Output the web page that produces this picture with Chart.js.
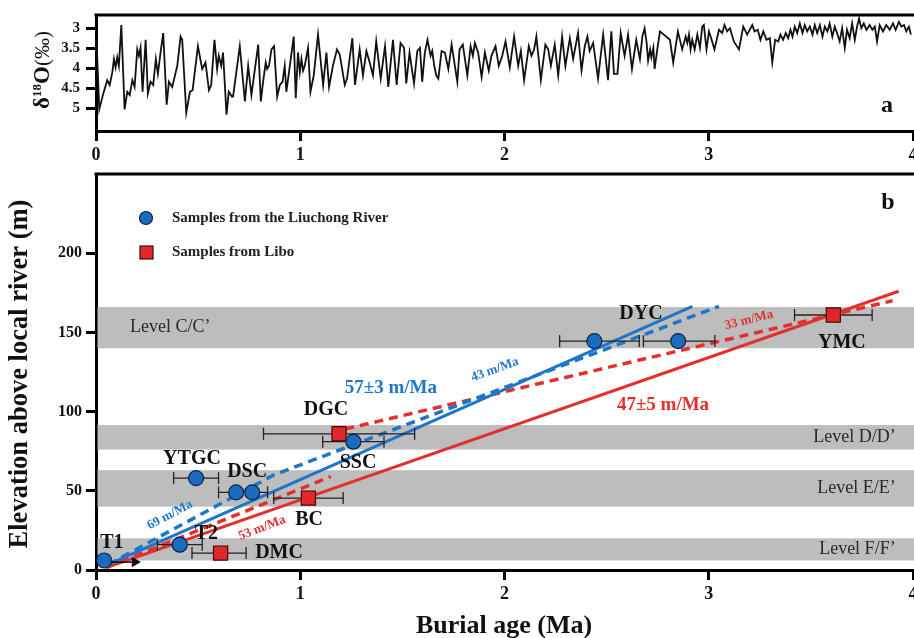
<!DOCTYPE html>
<html>
<head>
<meta charset="utf-8">
<script src="https://cdn.jsdelivr.net/npm/chart.js@4.4.1/dist/chart.umd.min.js"></script>
<style>
  html, body { margin: 0; padding: 0; background: #fff; overflow: hidden; }
  #wrap { position: relative; width: 914px; height: 638px; overflow: hidden; }
  #o18-box { position: absolute; left: 0; top: 0; width: 930px; height: 172px; }
  #burial-box { position: absolute; left: 0; top: 160px; width: 930px; height: 478px; }
</style>
</head>
<body>
<div id="wrap">
  <div id="o18-box"><canvas id="o18-chart" width="930" height="172"></canvas></div>
  <div id="burial-box"><canvas id="burial-chart" width="930" height="478"></canvas></div>
</div>
<script>
// ---- panel a: benthic d18O stack ----
const o18Age = [
  0.003, 0.016, 0.036, 0.055, 0.067, 0.080, 0.088, 0.096, 0.104, 0.112, 0.124, 0.140, 0.153, 0.165, 0.178, 0.189,
  0.202, 0.210, 0.218, 0.228, 0.243, 0.254, 0.267, 0.280, 0.293, 0.303, 0.316, 0.329, 0.346, 0.357, 0.373, 0.398,
  0.414, 0.422, 0.442, 0.460, 0.473, 0.499, 0.520, 0.536, 0.553, 0.564, 0.580, 0.593, 0.601, 0.613, 0.622, 0.639,
  0.650, 0.665, 0.671, 0.685, 0.704, 0.729, 0.745, 0.761, 0.794, 0.807, 0.818, 0.831, 0.838, 0.847, 0.859, 0.872,
  0.887, 0.900, 0.913, 0.924, 0.932, 0.949, 0.968, 0.978, 0.989, 0.998, 1.006, 1.014, 1.022, 1.038, 1.050, 1.066,
  1.087, 1.112, 1.128, 1.141, 1.160, 1.180, 1.193, 1.218, 1.229, 1.255, 1.268, 1.291, 1.307, 1.324, 1.340, 1.356,
  1.372, 1.394, 1.415, 1.431, 1.454, 1.472, 1.491, 1.508, 1.519, 1.535, 1.557, 1.573, 1.586, 1.597, 1.610, 1.623,
  1.638, 1.646, 1.656, 1.666, 1.676, 1.692, 1.708, 1.725, 1.741, 1.757, 1.769, 1.780, 1.796, 1.818, 1.834, 1.845,
  1.855, 1.871, 1.888, 1.904, 1.923, 1.936, 1.956, 1.972, 1.989, 2.005, 2.026, 2.047, 2.067, 2.080, 2.096, 2.119,
  2.132, 2.145, 2.156, 2.178, 2.200, 2.214, 2.227, 2.246, 2.263, 2.282, 2.298, 2.320, 2.336, 2.360, 2.377, 2.393,
  2.406, 2.417, 2.434, 2.458, 2.483, 2.507, 2.523, 2.536, 2.553, 2.569, 2.588, 2.605, 2.624, 2.645, 2.663, 2.675,
  2.686, 2.696, 2.703, 2.713, 2.719, 2.729, 2.735, 2.748, 2.761, 2.810, 2.826, 2.849, 2.870, 2.887, 2.895, 2.903,
  2.911, 2.919, 2.931, 2.944, 2.957, 2.968, 2.976, 2.989, 3.001, 3.012, 3.028, 3.050, 3.066, 3.077, 3.090, 3.104,
  3.123, 3.148, 3.169, 3.188, 3.213, 3.224, 3.240, 3.253, 3.267, 3.283, 3.299, 3.311, 3.325, 3.340, 3.351, 3.364,
  3.377, 3.389, 3.400, 3.410, 3.421, 3.433, 3.446, 3.459, 3.470, 3.482, 3.495, 3.508, 3.519, 3.531, 3.544, 3.557,
  3.568, 3.581, 3.592, 3.605, 3.617, 3.628, 3.641, 3.653, 3.666, 3.677, 3.690, 3.702, 3.715, 3.726, 3.736, 3.747,
  3.759, 3.772, 3.788, 3.801, 3.813, 3.824, 3.837, 3.853, 3.869, 3.886, 3.902, 3.915, 3.931, 3.943, 3.956, 3.967,
  3.980, 3.990
];
const o18Val = [
  3.32, 5.02, 4.62, 4.29, 4.41, 4.09, 3.76, 3.97, 3.72, 3.93, 2.91, 5.02, 4.58, 4.66, 4.29, 4.46,
  3.52, 3.68, 3.48, 4.58, 3.28, 4.62, 4.33, 4.41, 3.76, 4.13, 3.60, 3.11, 4.90, 4.33, 4.46, 3.93,
  3.20, 3.28, 5.10, 4.58, 4.54, 3.44, 4.01, 3.85, 4.54, 4.41, 3.28, 4.01, 3.68, 3.93, 3.60, 5.15,
  4.58, 4.70, 4.70, 4.17, 3.44, 4.82, 3.93, 4.66, 3.40, 4.82, 4.33, 3.85, 4.01, 3.93, 3.52, 3.44,
  4.70, 4.41, 4.33, 3.93, 4.58, 3.93, 3.20, 4.74, 3.60, 4.09, 3.76, 4.05, 3.93, 3.48, 4.58, 4.17,
  3.15, 4.41, 3.60, 4.46, 3.93, 3.52, 3.64, 4.41, 4.25, 3.24, 4.41, 3.52, 4.17, 3.56, 3.85, 4.17,
  3.32, 4.25, 3.44, 4.46, 3.28, 4.41, 3.36, 3.48, 4.37, 3.60, 4.37, 3.56, 3.48, 4.33, 3.60, 3.28,
  3.68, 3.56, 3.93, 4.17, 4.25, 3.56, 3.60, 4.01, 3.40, 3.93, 4.33, 3.52, 3.40, 4.17, 3.44, 3.68,
  3.36, 3.60, 4.21, 3.60, 4.05, 3.68, 3.44, 3.93, 3.68, 3.32, 3.97, 3.20, 3.93, 3.56, 4.29, 3.44,
  3.68, 3.52, 3.20, 4.29, 3.40, 3.52, 3.93, 3.40, 4.17, 3.20, 3.93, 3.24, 3.76, 3.11, 4.05, 3.44,
  3.20, 3.56, 3.36, 4.25, 3.15, 4.29, 3.07, 4.13, 4.13, 3.11, 3.68, 3.15, 4.01, 3.28, 3.76, 3.20,
  2.99, 3.36, 3.80, 3.52, 3.72, 3.48, 4.01, 3.52, 3.07, 3.28, 3.85, 3.07, 3.52, 3.20, 3.36, 3.15,
  3.52, 3.28, 3.52, 3.15, 3.48, 2.95, 2.91, 3.52, 3.07, 3.24, 3.52, 3.03, 3.11, 2.91, 3.07, 2.99,
  3.32, 3.52, 2.95, 3.15, 2.91, 3.07, 3.03, 3.28, 3.07, 3.28, 3.24, 3.85, 3.28, 3.32, 3.15, 3.28,
  3.11, 3.24, 3.03, 3.20, 2.95, 3.11, 2.87, 3.11, 2.91, 3.07, 2.95, 3.15, 2.91, 3.11, 2.91, 3.20,
  2.95, 3.07, 2.87, 3.20, 2.95, 3.11, 3.32, 2.99, 3.48, 3.03, 3.24, 2.87, 3.28, 2.95, 2.75, 2.99,
  2.87, 3.03, 2.91, 3.03, 2.95, 3.32, 2.91, 3.07, 2.91, 3.03, 2.87, 3.03, 2.83, 2.95, 2.91, 3.07,
  2.95, 3.15
];
const o18Ticks = [3, 3.5, 4, 4.5, 5];
const ageTicks = [0, 1, 2, 3, 4];

// ---- panel b: burial ages ----
// Liuchong River samples (circles)
const liuNames = ['T1', 'T2', 'YTGC', 'DSC', 'DSC', 'SSC', 'DYC', 'DYC'];
const liuAge   = [0.04, 0.41, 0.49, 0.686, 0.765, 1.26, 2.44, 2.85];
const liuElev  = [6, 16, 58, 49, 49, 81, 144.5, 144.5];
const liuLo    = [null, 0.30, 0.38, 0.60, 0.686, 1.11, 2.27, 2.68];
const liuHi    = [null, 0.52, 0.60, 0.765, 0.84, 1.41, 2.66, 3.03];
// Libo samples (squares)
const libNames = ['DMC', 'BC', 'DGC', 'YMC'];
const libAge   = [0.61, 1.04, 1.19, 3.61];
const libElev  = [10.7, 45.4, 86, 161];
const libLo    = [0.47, 0.87, 0.82, 3.42];
const libHi    = [0.735, 1.21, 1.56, 3.80];

// incision-rate lines
const blueFitX  = [0.05, 2.92];
const blueFitY  = [2.9, 166.4];
const blueDashX = [0.06, 0.87, 3.05];
const blueDashY = [3.5, 60, 166.5];
const redFitX   = [0.05, 3.93];
const redFitY   = [1.5, 176];
const redDashX  = [0.05, 1.15, 1.18, 1.22, 3.90];
const redDashY  = [1.5, 59, null, 89, 170];
const arrowX    = [0.07, 0.19];
const arrowY    = [5, 5];

// terrace levels (m)
const levelNames = ['Level C/C’', 'Level D/D’', 'Level E/E’', 'Level F/F’'];
const levelLo    = [140, 76, 40, 6];
const levelHi    = [166, 91.5, 63, 20];
const elevTicks  = [0, 50, 100, 150, 200];

const BLUE = '#1d76c9';
const RED = '#e3302d';
const SERIF = "'Liberation Serif', 'Times New Roman', serif";
Chart.defaults.font.family = SERIF;
Chart.defaults.color = '#111';

const pts = (xs, ys) => xs.map((x, i) => ({ x: x, y: ys[i] }));

function errBars(lo, hi, ys) {
  const out = [];
  lo.forEach((l, i) => {
    if (l == null) return;
    out.push({ x: l, y: ys[i] }, { x: hi[i], y: ys[i] }, { x: hi[i], y: null });
  });
  return out;
}

function axisX(height, labelPad, size) {
  return {
    type: 'linear', min: 0, max: 4,
    afterBuildTicks: s => { s.ticks = ageTicks.map(v => ({ value: v })); },
    afterFit: s => { s.height = height; },
    grid: { drawOnChartArea: false, drawTicks: true, tickLength: 10, lineWidth: 3, color: '#000' },
    border: { display: true, width: 3, color: '#000' },
    ticks: { padding: labelPad, maxRotation: 0, color: '#111', font: { size: size, weight: 'bold' },
             callback: v => String(v) }
  };
}

function yAxisBox(pad, size) {
  return {
    afterFit: s => { s.width = 96; },
    grid: { drawOnChartArea: false, drawTicks: true, tickLength: 10, lineWidth: 3, color: '#000' },
    border: { display: true, width: 3, color: '#000' },
    ticks: { padding: pad, color: '#111', font: { size: size, weight: 'bold' }, callback: v => String(v) }
  };
}

// thick top edge of each panel
const topEdge = {
  id: 'topEdge',
  afterDraw(chart) {
    const { ctx, chartArea: a } = chart;
    ctx.save();
    ctx.strokeStyle = '#000';
    ctx.lineWidth = 3;
    ctx.beginPath();
    ctx.moveTo(a.left - 1.5, a.top);
    ctx.lineTo(a.right + 20, a.top);
    ctx.stroke();
    ctx.restore();
  }
};

function txt(ctx, s, x, y, font, color, align, rot) {
  ctx.save();
  ctx.translate(x, y);
  if (rot) ctx.rotate(rot * Math.PI / 180);
  ctx.font = font;
  ctx.fillStyle = color;
  ctx.textAlign = align || 'center';
  ctx.textBaseline = 'middle';
  ctx.fillText(s, 0, 0);
  ctx.restore();
}

// ---------------- panel a ----------------
const o18Deco = {
  id: 'o18Deco',
  afterDraw(chart) {
    const ctx = chart.ctx;
    txt(ctx, 'a', 887, 106, 'bold 24px ' + SERIF, '#111');
    // rotated title δ18O(‰)
    const parts = [
      { s: 'δ', f: 'bold 23px ' + SERIF, dy: 0 },
      { s: '18', f: 'bold 13px ' + SERIF, dy: -8 },
      { s: 'O', f: 'bold 23px ' + SERIF, dy: 0 },
      { s: '(‰)', f: '21px ' + SERIF, dy: 0 }
    ];
    ctx.save();
    ctx.translate(41, 70);
    ctx.rotate(-Math.PI / 2);
    ctx.fillStyle = '#111';
    ctx.textBaseline = 'alphabetic';
    let total = 0;
    parts.forEach(p => { ctx.font = p.f; p.w = ctx.measureText(p.s).width; total += p.w; });
    let cx = -total / 2;
    parts.forEach(p => { ctx.font = p.f; ctx.fillText(p.s, cx, 8 + p.dy); cx += p.w; });
    ctx.restore();
  }
};

new Chart(document.getElementById('o18-chart'), {
  type: 'line',
  data: {
    datasets: [{
      data: pts(o18Age, o18Val),
      borderColor: '#111',
      borderWidth: 1.8,
      pointRadius: 0,
      tension: 0
    }]
  },
  options: {
    responsive: false,
    devicePixelRatio: 1,
    animation: false,
    events: [],
    layout: { padding: { top: 12, right: 17, left: 0, bottom: 0 } },
    plugins: { legend: { display: false }, tooltip: { enabled: false } },
    scales: {
      x: axisX(41, 4, 18),
      y: Object.assign(yAxisBox(6, 15), {
        type: 'linear', reverse: true, min: 2.66, max: 5.56,
        afterBuildTicks: s => { s.ticks = o18Ticks.map(v => ({ value: v })); }
      })
    }
  },
  plugins: [topEdge, o18Deco]
});

// ---------------- panel b ----------------
const sampleNotes = [
  { t: 'T1', x: 0.078, y: 17 }, { t: 'T2', x: 0.54, y: 23 }, { t: 'DMC', x: 0.896, y: 10.7 },
  { t: 'BC', x: 1.043, y: 31.6 }, { t: 'YTGC', x: 0.47, y: 70 }, { t: 'DSC', x: 0.74, y: 62 },
  { t: 'DGC', x: 1.126, y: 101 }, { t: 'SSC', x: 1.283, y: 67.5 }, { t: 'DYC', x: 2.668, y: 161.6 },
  { t: 'YMC', x: 3.652, y: 143.3 }
];
const rateNotes = [
  { t: '57±3 m/Ma', x: 1.444, y: 115, c: BLUE, f: 'bold 19px ', r: 0 },
  { t: '47±5 m/Ma', x: 2.776, y: 104, c: RED, f: 'bold 19px ', r: 0 },
  { t: '43 m/Ma', x: 1.953, y: 126.5, c: BLUE, f: 'bold 13px ', r: -20 },
  { t: '69 m/Ma', x: 0.362, y: 34.7, c: BLUE, f: 'bold 13px ', r: -28 },
  { t: '53 m/Ma', x: 0.813, y: 26.5, c: RED, f: 'bold 13px ', r: -21 },
  { t: '33 m/Ma', x: 3.197, y: 157.8, c: RED, f: 'bold 13px ', r: -14 }
];

const levelBands = {
  id: 'levelBands',
  beforeDatasetsDraw(chart) {
    const { ctx, chartArea: a, scales: { y } } = chart;
    ctx.save();
    ctx.fillStyle = '#bdbdbd';
    levelLo.forEach((lo, i) => {
      const top = y.getPixelForValue(levelHi[i]);
      const bot = y.getPixelForValue(lo);
      ctx.fillRect(a.left + 1.5, top, a.right - a.left + 20, bot - top);
    });
    ctx.restore();
    const x = chart.scales.x;
    levelNames.forEach((n, i) => {
      const yc = y.getPixelForValue((levelLo[i] + levelHi[i]) / 2);
      if (i === 0) txt(ctx, n, x.getPixelForValue(0.166), yc, '18px ' + SERIF, '#2a2a2a', 'left');
      else txt(ctx, n, x.getPixelForValue(3.915), yc, '18px ' + SERIF, '#2a2a2a', 'right');
    });
  }
};

const burialNotes = {
  id: 'burialNotes',
  afterDatasetsDraw(chart) {
    const { ctx, scales: { x, y } } = chart;
    sampleNotes.forEach(n =>
      txt(ctx, n.t, x.getPixelForValue(n.x), y.getPixelForValue(n.y), 'bold 20px ' + SERIF, '#111'));
    rateNotes.forEach(n =>
      txt(ctx, n.t, x.getPixelForValue(n.x), y.getPixelForValue(n.y), n.f + SERIF, n.c, 'center', n.r));
  },
  afterDraw(chart) {
    const ctx = chart.ctx;
    const liu = chart.data.datasets[0], lib = chart.data.datasets[1];
    // legend
    ctx.save();
    ctx.fillStyle = liu.backgroundColor; ctx.strokeStyle = liu.borderColor; ctx.lineWidth = 1.2;
    ctx.beginPath(); ctx.arc(146, 58, 6.5, 0, Math.PI * 2); ctx.fill(); ctx.stroke();
    ctx.fillStyle = lib.backgroundColor; ctx.strokeStyle = lib.borderColor;
    ctx.fillRect(140, 86, 13, 13); ctx.strokeRect(140, 86, 13, 13);
    ctx.restore();
    txt(ctx, 'Samples from the Liuchong River', 172, 58, 'bold 15px ' + SERIF, '#222', 'left');
    txt(ctx, 'Samples from Libo', 172, 92, 'bold 15px ' + SERIF, '#222', 'left');
    // panel letter and axis titles
    txt(ctx, 'b', 888, 43, 'bold 24px ' + SERIF, '#111');
    txt(ctx, 'Burial age (Ma)', 504, 466, 'bold 26px ' + SERIF, '#111');
    txt(ctx, 'Elevation above local river (m)', 20, 214, 'bold 26.5px ' + SERIF, '#111', 'center', -90);
  }
};

new Chart(document.getElementById('burial-chart'), {
  type: 'line',
  data: {
    datasets: [
      {
        label: 'Samples from the Liuchong River',
        data: pts(liuAge, liuElev), showLine: false,
        pointStyle: 'circle', pointRadius: 7.5, pointBorderWidth: 1.2,
        backgroundColor: '#1a6cc0', borderColor: '#0c2340'
      },
      {
        label: 'Samples from Libo',
        data: pts(libAge, libElev), showLine: false,
        pointStyle: 'rect', pointRadius: 10, pointBorderWidth: 1.2,
        backgroundColor: '#e3262a', borderColor: '#3b0b0b'
      },
      {
        data: pts(arrowX, arrowY), borderColor: '#111', borderWidth: 1.6,
        pointStyle: 'triangle', rotation: 90, pointRadius: [0, 4.5],
        backgroundColor: '#111', pointBorderColor: '#111'
      },
      {
        data: errBars(liuLo, liuHi, liuElev).concat(errBars(libLo, libHi, libElev)),
        borderColor: '#222', borderWidth: 1.3, spanGaps: false,
        pointStyle: 'line', rotation: 90, pointRadius: 6, pointBorderWidth: 1.3, pointBorderColor: '#222'
      },
      { data: pts(blueFitX, blueFitY), borderColor: BLUE, borderWidth: 3, pointRadius: 0 },
      { data: pts(redFitX, redFitY), borderColor: RED, borderWidth: 3, pointRadius: 0 },
      { data: pts(blueDashX, blueDashY), borderColor: BLUE, borderWidth: 3.5, borderDash: [9, 6], pointRadius: 0 },
      { data: pts(redDashX, redDashY), borderColor: RED, borderWidth: 3.5, borderDash: [9, 6], pointRadius: 0, spanGaps: false }
    ]
  },
  options: {
    responsive: false,
    devicePixelRatio: 1,
    animation: false,
    events: [],
    layout: { padding: { top: 14, right: 17, left: 0, bottom: 0 } },
    plugins: { legend: { display: false }, tooltip: { enabled: false } },
    scales: {
      x: axisX(68, 4, 18),
      y: Object.assign(yAxisBox(4, 16), {
        type: 'linear', min: 0, max: 250,
        afterBuildTicks: s => { s.ticks = elevTicks.map(v => ({ value: v })); }
      })
    }
  },
  plugins: [levelBands, topEdge, burialNotes]
});
</script>
</body>
</html>
